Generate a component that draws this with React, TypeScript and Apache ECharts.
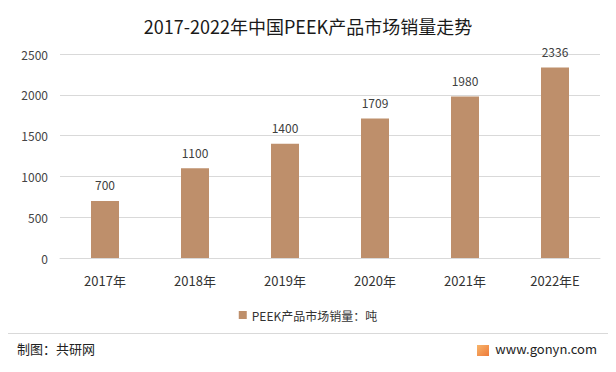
import React, { useEffect, useRef } from "react";
import * as echarts from "echarts";

const categories = ["2017年", "2018年", "2019年", "2020年", "2021年", "2022年E"];
const salesValues = [700, 1100, 1400, 1709, 1980, 2336];
const yTicks = [0, 500, 1000, 1500, 2000, 2500];
const seriesName = "PEEK产品市场销量：吨";
const titleText = "2017-2022年中国PEEK产品市场销量走势";
const sourceText = "制图：共研网";
const siteText = "www.gonyn.com";

const FONT = "'Noto Sans CJK SC', 'Noto Sans', sans-serif";

export default function App() {
  const ref = useRef<HTMLDivElement>(null);
  useEffect(() => {
    if (!ref.current) return;
    const chart = echarts.init(ref.current, undefined, { renderer: "svg" });
    chart.setOption({
      animation: false,
      backgroundColor: "#ffffff",
      textStyle: { fontFamily: FONT },
      title: {
        text: titleText,
        left: "center",
        top: 12,
        textStyle: { fontSize: 18, fontWeight: "normal", color: "#1a1a1a", fontFamily: FONT },
      },
      grid: { left: 60, right: 16, top: 54, bottom: 114, containLabel: false },
      legend: {
        data: [seriesName],
        bottom: 46,
        left: "center",
        itemWidth: 8,
        itemHeight: 8,
        icon: "rect",
        itemGap: 4,
        textStyle: { fontSize: 12, color: "#333", fontFamily: FONT },
      },
      xAxis: {
        type: "category",
        data: categories,
        axisTick: { show: false },
        axisLine: { lineStyle: { color: "#d9d9d9" } },
        axisLabel: { fontSize: 13, color: "#333", margin: 16, fontFamily: FONT },
      },
      yAxis: {
        type: "value",
        min: yTicks[0],
        max: yTicks[yTicks.length - 1],
        interval: 500,
        splitLine: { lineStyle: { color: "#d9d9d9" } },
        axisLine: { show: false },
        axisTick: { show: false },
        axisLabel: {
          fontSize: 12,
          color: "#444",
          margin: 12,
          fontFamily: FONT,
          formatter: (v: number) => String(v),
        },
      },
      series: [
        {
          name: seriesName,
          type: "bar",
          data: salesValues,
          barWidth: 28,
          itemStyle: { color: "#BE8F6B" },
          label: {
            show: true,
            position: "top",
            distance: 10,
            fontSize: 12,
            color: "#404040",
            fontFamily: FONT,
          },
        },
      ],
      graphic: [
        {
          type: "rect",
          shape: { x: 5.5, y: 4.5, width: 605, height: 362 },
          style: { fill: "none", stroke: "#cfcfcf", lineWidth: 1 },
          silent: true,
        },
        {
          type: "line",
          shape: { x1: 5, y1: 333.5, x2: 611, y2: 333.5 },
          style: { stroke: "#d9d9d9", lineWidth: 1 },
        },
        {
          type: "text",
          left: 17,
          top: 342,
          style: { text: sourceText, fontSize: 13, fill: "#222", fontFamily: FONT },
        },
        {
          type: "rect",
          shape: { x: 477, y: 345, width: 12, height: 11 },
          style: {
            fill: new echarts.graphic.LinearGradient(0, 0, 1, 1, [
              { offset: 0, color: "#F7B56B" },
              { offset: 1, color: "#EE7A3A" },
            ]),
          },
        },
        {
          type: "text",
          right: 19,
          top: 342,
          style: { text: siteText, fontSize: 13, fill: "#222", fontFamily: FONT },
        },
      ],
    });
    return () => chart.dispose();
  }, []);
  return <div ref={ref} style={{ width: 616, height: 372, margin: -8 }} />;
}
